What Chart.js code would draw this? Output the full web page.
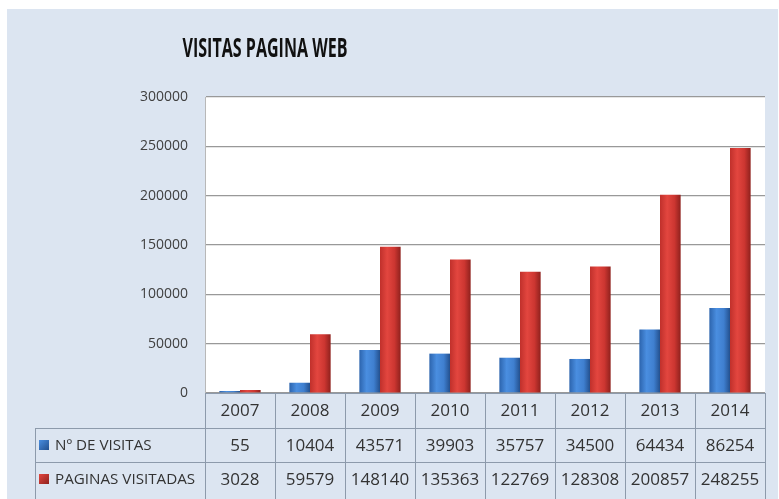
<!DOCTYPE html>
<html>

<head>
    <title>Visitas Pagina Web</title>
    <script src="https://cdn.jsdelivr.net/npm/chart.js"></script>
    <style>
        body { margin: 0; background: #ffffff; }
    </style>
</head>

<body>
    <canvas id="visitasChart" width="779" height="499"></canvas>

    <script>
        // Data
        const years = ['2007', '2008', '2009', '2010', '2011', '2012', '2013', '2014'];
        const visitas = [55, 10404, 43571, 39903, 35757, 34500, 64434, 86254];
        const paginas = [3028, 59579, 148140, 135363, 122769, 128308, 200857, 248255];
        const seriesNames = ['Nº DE VISITAS', 'PAGINAS VISITADAS'];
        const chartTitle = 'VISITAS PAGINA WEB';

        const panelColor = '#dce5f1';
        const lineColor = '#8d9aab';
        const textColor = '#333333';
        const font = "'Open Sans', sans-serif";
        const catPct = 0.59;

        // cylinder-ish shading across each bar
        const shades = [
            ['#2c64ad', '#4a8ee0', '#3f7fcf', '#23508e'],
            ['#c0302b', '#e3463f', '#cc3631', '#8f211d']
        ];

        function barFill(context) {
            const chart = context.chart;
            const xs = chart.scales.x;
            if (!chart.chartArea || !xs) return shades[context.datasetIndex][1];
            const catW = (xs.right - xs.left) / years.length;
            const barW = catW * catPct / 2;
            const cx = xs.getPixelForValue(context.dataIndex);
            const left = context.datasetIndex === 0 ? cx - barW : cx;
            const g = chart.ctx.createLinearGradient(left, 0, left + barW, 0);
            const s = shades[context.datasetIndex];
            g.addColorStop(0, s[0]);
            g.addColorStop(0.35, s[1]);
            g.addColorStop(0.7, s[2]);
            g.addColorStop(1, s[3]);
            return g;
        }

        // panel background + white plot area
        const backdrop = {
            id: 'backdrop',
            beforeDraw(chart) {
                const { ctx, chartArea } = chart;
                ctx.save();
                ctx.fillStyle = '#ffffff';
                ctx.fillRect(0, 0, chart.width, chart.height);
                ctx.fillStyle = panelColor;
                ctx.fillRect(7, 9, chart.width - 8, chart.height - 9);
                ctx.fillStyle = '#ffffff';
                ctx.fillRect(chartArea.left, chartArea.top, chartArea.right - chartArea.left, chartArea.bottom - chartArea.top);
                ctx.restore();
            }
        };

        // title sits left of centre and is narrow, like the original
        const titlePlugin = {
            id: 'titlePlugin',
            afterDraw(chart) {
                const ctx = chart.ctx;
                ctx.save();
                ctx.font = 'bold 26px ' + font;
                const w = ctx.measureText(chartTitle).width;
                ctx.translate(265, 50);
                ctx.scale(165 / w, 1);
                ctx.fillStyle = '#111111';
                ctx.textAlign = 'center';
                ctx.textBaseline = 'middle';
                ctx.fillText(chartTitle, 0, 0);
                ctx.restore();
            }
        };

        // data table under the x axis
        const dataTable = {
            id: 'dataTable',
            afterDraw(chart) {
                const { ctx, chartArea } = chart;
                const xs = chart.scales.x;
                const catW = (xs.right - xs.left) / years.length;
                const top = chartArea.bottom;
                const rows = [top, top + 35, top + 69];
                const rowH = [35, 34, 34];
                const labelLeft = 35;
                ctx.save();
                ctx.strokeStyle = lineColor;
                ctx.lineWidth = 1;
                ctx.beginPath();
                // horizontal lines
                ctx.moveTo(xs.left, top + 0.5); ctx.lineTo(xs.right, top + 0.5);
                ctx.moveTo(labelLeft, rows[1] + 0.5); ctx.lineTo(xs.right, rows[1] + 0.5);
                ctx.moveTo(labelLeft, rows[2] + 0.5); ctx.lineTo(xs.right, rows[2] + 0.5);
                // vertical lines
                ctx.moveTo(labelLeft + 0.5, rows[1]); ctx.lineTo(labelLeft + 0.5, chart.height);
                for (let i = 0; i <= years.length; i++) {
                    const x = Math.round(xs.left + i * catW) + 0.5;
                    ctx.moveTo(x, top); ctx.lineTo(x, chart.height);
                }
                ctx.stroke();

                ctx.fillStyle = textColor;
                ctx.textAlign = 'center';
                ctx.textBaseline = 'middle';
                ctx.font = '17px ' + font;
                const rowData = [years, visitas, paginas];
                rowData.forEach((vals, r) => {
                    const cy = rows[r] + rowH[r] / 2 + 1;
                    vals.forEach((v, i) => {
                        ctx.fillText(String(v), xs.getPixelForValue(i), cy);
                    });
                });

                // series labels with colour keys
                ctx.textAlign = 'left';
                ctx.font = '15.2px ' + font;
                seriesNames.forEach((name, k) => {
                    const cy = rows[k + 1] + rowH[k + 1] / 2;
                    const g = ctx.createLinearGradient(39, cy - 5, 49, cy + 5);
                    g.addColorStop(0, shades[k][1]);
                    g.addColorStop(1, shades[k][3]);
                    ctx.fillStyle = g;
                    ctx.fillRect(39, cy - 5, 10, 10);
                    ctx.fillStyle = textColor;
                    ctx.fillText(name, 55, cy + 1);
                });
                ctx.restore();
            }
        };

        const ctx = document.getElementById('visitasChart').getContext('2d');
        const visitasChart = new Chart(ctx, {
            type: 'bar',
            data: {
                labels: years,
                datasets: [
                    {
                        label: seriesNames[0],
                        data: visitas,
                        backgroundColor: barFill,
                        minBarLength: 2
                    },
                    {
                        label: seriesNames[1],
                        data: paginas,
                        backgroundColor: barFill,
                        minBarLength: 2
                    }
                ]
            },
            options: {
                responsive: false,
                animation: false,
                devicePixelRatio: 1,
                layout: {
                    padding: { top: 97, right: 14, bottom: 106, left: 0 }
                },
                datasets: {
                    bar: {
                        barPercentage: 1,
                        categoryPercentage: catPct
                    }
                },
                plugins: {
                    legend: { display: false },
                    title: { display: false },
                    tooltip: { enabled: false }
                },
                scales: {
                    x: {
                        ticks: { display: false },
                        grid: { display: false },
                        border: { display: false },
                        afterFit(scale) { scale.height = 0; }
                    },
                    y: {
                        min: 0,
                        max: 300000,
                        ticks: {
                            stepSize: 50000,
                            padding: 17,
                            color: '#404040',
                            font: { family: font, size: 14 },
                            callback: (v) => String(v)
                        },
                        grid: {
                            color: '#999999',
                            lineWidth: 1.2,
                            drawTicks: false
                        },
                        border: { display: true, color: '#b8b8b8' },
                        afterFit(scale) { scale.width = 205; }
                    }
                }
            },
            plugins: [backdrop, titlePlugin, dataTable]
        });
    </script>
</body>

</html>
